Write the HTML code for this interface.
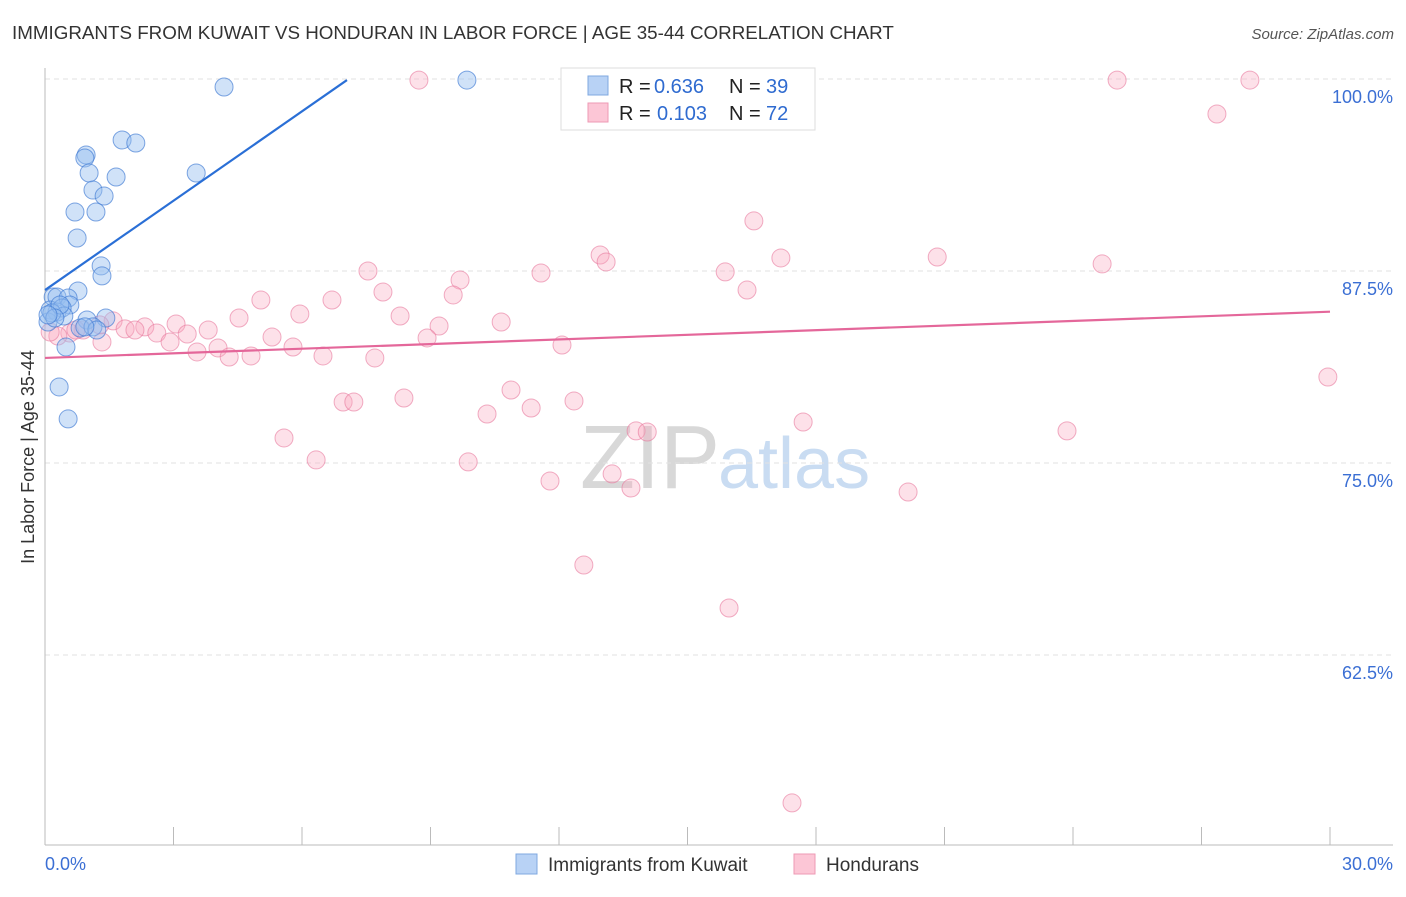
<!DOCTYPE html>
<html><head><meta charset="utf-8"><style>
body{margin:0;background:#fff;font-family:"Liberation Sans",sans-serif;}
svg text{font-family:"Liberation Sans",sans-serif;}
</style></head><body>
<svg id="c" width="1406" height="892">
<text x="12" y="39" font-size="18.8" fill="#333">IMMIGRANTS FROM KUWAIT VS HONDURAN IN LABOR FORCE | AGE 35-44 CORRELATION CHART</text>
<text x="1394" y="39" font-size="15" fill="#555" font-style="italic" text-anchor="end">Source: ZipAtlas.com</text>
<text x="720" y="488" font-size="90" fill="#d8d8d8" text-anchor="end" font-family="Liberation Serif">ZIP</text>
<text x="718" y="488" font-size="72" fill="#c9dcf2">atlas</text>
<text transform="translate(34,457) rotate(-90)" font-size="18" fill="#333" text-anchor="middle">In Labor Force | Age 35-44</text>
<g id="grid"></g><g id="pts"></g><g id="lines"></g>
<g>
<rect x="561" y="68" width="254" height="62" fill="#fff" stroke="#ddd"/>
<rect x="588" y="76" width="20" height="19" fill="#b8d2f5" stroke="#7fa8e0"/>
<rect x="588" y="103" width="20" height="19" fill="#fcc6d6" stroke="#ee9ab4"/>
<text x="619" y="93" font-size="20" fill="#222">R =</text>
<text x="654" y="93" font-size="20" fill="#2f6bd0">0.636</text>
<text x="729" y="93" font-size="20" fill="#222">N =</text>
<text x="766" y="93" font-size="20" fill="#2f6bd0">39</text>
<text x="619" y="120" font-size="20" fill="#222">R =</text>
<text x="657" y="120" font-size="20" fill="#2f6bd0">0.103</text>
<text x="729" y="120" font-size="20" fill="#222">N =</text>
<text x="766" y="120" font-size="20" fill="#2f6bd0">72</text>
</g>
<g>
<rect x="516" y="854" width="21" height="20" fill="#b8d2f5" stroke="#7fa8e0"/>
<text x="548" y="871" font-size="19" fill="#333">Immigrants from Kuwait</text>
<rect x="794" y="854" width="21" height="20" fill="#fcc6d6" stroke="#ee9ab4"/>
<text x="826" y="871" font-size="19" fill="#333">Hondurans</text>
</g>
<text x="45" y="870" font-size="18" fill="#3b6fd4">0.0%</text>
<text x="1393" y="870" font-size="18" fill="#3b6fd4" text-anchor="end">30.0%</text>
</svg>
<script>
const yTicks=[100,87.5,75,62.5];
const yTickLabels=["100.0%","87.5%","75.0%","62.5%"];
const xTicks=[0,3,6,9,12,15,18,21,24,27,30];
const kuwaitX=[4.18,9.85,1.80,2.12,0.96,0.93,1.03,1.66,3.53,1.12,1.38,0.70,1.19,0.75,1.31,1.33,0.77,0.19,0.28,0.54,0.58,0.12,0.28,0.40,0.44,0.07,0.98,1.42,0.82,1.12,1.21,0.49,0.33,0.54,0.16,0.35,0.93,0.23,0.07];
const kuwaitY=[99.48,99.93,96.03,95.83,95.05,94.86,93.88,93.62,93.88,92.77,92.38,91.34,91.34,89.65,87.83,87.18,86.20,85.81,85.81,85.74,85.29,84.96,84.83,85.09,84.57,84.18,84.31,84.44,83.79,83.86,83.66,82.55,79.95,77.87,84.77,85.29,83.86,84.44,84.64];
const hondX=[8.73,25.03,28.13,27.36,16.55,12.96,13.10,17.18,20.83,24.68,15.88,7.54,9.69,11.58,7.89,9.53,16.39,5.04,6.70,5.95,8.29,4.53,1.59,3.06,2.33,1.87,3.81,3.32,2.61,5.30,9.20,10.65,8.92,0.89,0.58,0.30,0.12,1.33,2.92,4.04,5.79,3.55,4.30,4.81,6.49,7.70,12.07,29.95,10.88,8.38,12.35,6.96,7.21,10.32,11.35,17.70,23.86,5.58,13.80,14.06,6.33,9.88,13.24,11.79,13.68,20.15,12.58,15.97,17.44,0.72,2.10,1.28];
const hondY=[99.93,99.93,99.93,97.72,90.76,88.54,88.09,88.35,88.41,87.96,87.44,87.50,86.91,87.37,86.13,85.94,86.26,85.61,85.61,84.70,84.57,84.44,84.25,84.05,83.86,83.73,83.66,83.40,83.46,83.20,83.92,84.18,83.14,83.66,83.46,83.27,83.53,82.88,82.88,82.49,82.55,82.23,81.90,81.97,81.97,81.84,82.68,80.60,79.75,79.23,79.04,78.97,78.97,78.19,78.58,77.67,77.09,76.63,77.09,77.02,75.20,75.07,74.29,73.83,73.37,73.11,68.36,65.56,52.87,83.66,83.66,83.99];
const kuwaitFit=[[0,86.26],[7.05,99.93]];
const hondFit=[[0,81.84],[30,84.85]];
const NS="http://www.w3.org/2000/svg";
const X=v=>45+v/30*1285;
const Y=v=>79+(100-v)*15.36;
function mk(t,a,p){const e=document.createElementNS(NS,t);for(const k in a)e.setAttribute(k,a[k]);p.appendChild(e);return e;}
const g=document.getElementById('grid');
yTicks.forEach((t,i)=>{
 const l=mk('line',{x1:45,x2:1393,y1:Y(t),y2:Y(t),stroke:'#e2e2e2','stroke-dasharray':'5,4'},g);
 
 
 const tx=mk('text',{x:1393,y:Y(t)+24,'font-size':18,fill:'#3b6fd4','text-anchor':'end'},g);
 tx.textContent=yTickLabels[i];
 
 
});
const ax=mk('line',{x1:45,x2:45,y1:68,y2:845,stroke:'#bbb'},g);


const bx=mk('line',{x1:45,x2:1393,y1:845,y2:845,stroke:'#bbb'},g);


xTicks.forEach(t=>{
 const l=mk('line',{x1:X(t),x2:X(t),y1:827,y2:845,stroke:'#bbb'},g);
 
 
});
const p=document.getElementById('pts');
hondX.forEach((v,i)=>{
 const c=mk('circle',{cx:X(v),cy:Y(hondY[i]),r:9,fill:'rgba(248,168,192,0.35)',stroke:'rgba(232,120,156,0.6)','stroke-width':1},p);
 
 
});
kuwaitX.forEach((v,i)=>{
 const c=mk('circle',{cx:X(v),cy:Y(kuwaitY[i]),r:9,fill:'rgba(150,190,240,0.45)',stroke:'rgba(60,120,210,0.65)','stroke-width':1},p);
 
 
});
const L=document.getElementById('lines');
const kl=mk('line',{x1:X(kuwaitFit[0][0]),y1:Y(kuwaitFit[0][1]),x2:X(kuwaitFit[1][0]),y2:Y(kuwaitFit[1][1]),stroke:'#2a6fd6','stroke-width':2.2},L);


const hl=mk('line',{x1:X(hondFit[0][0]),y1:Y(hondFit[0][1]),x2:X(hondFit[1][0]),y2:Y(hondFit[1][1]),stroke:'#e4679a','stroke-width':2.2},L);


</script>
</body></html>
